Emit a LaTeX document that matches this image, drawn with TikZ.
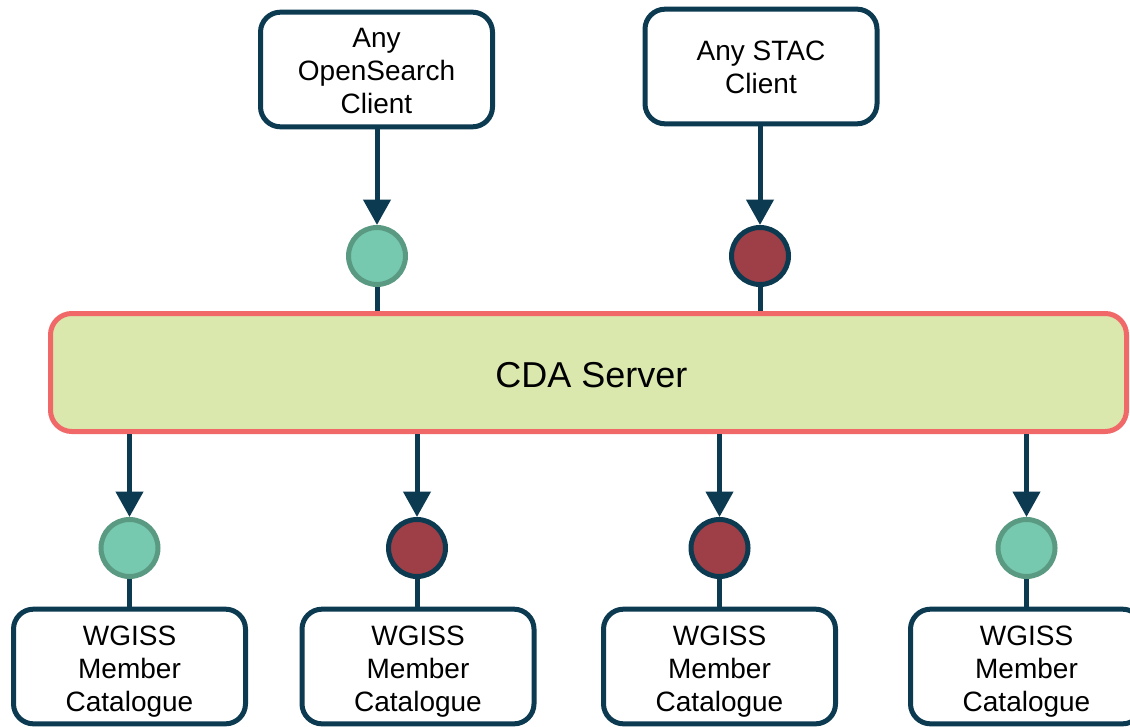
\documentclass[tikz,border=0pt]{standalone}
\usepackage{fontspec}
\setmainfont{Liberation Sans}
\usetikzlibrary{arrows.meta}
\definecolor{navy}{HTML}{0C3A51}
\definecolor{gfill}{HTML}{76C8AE}
\definecolor{gline}{HTML}{5A9A83}
\definecolor{rfill}{HTML}{9E3F47}
\definecolor{sfill}{HTML}{DAE8AE}
\definecolor{sline}{HTML}{F06868}
\tikzset{
  clientbox/.style={draw=navy, line width=3.75pt, rounded corners=15pt, fill=white,
    minimum width=174pt, minimum height=86pt, inner sep=0pt},
  txt/.style={align=center, inner sep=0pt, font=\fontsize{21}{24.75}\selectfont},
  serverbox/.style={draw=sline, fill=sfill, line width=3.75pt, rounded corners=16pt,
    minimum width=807pt, minimum height=88.5pt, inner sep=0pt},
  bigtxt/.style={inner sep=0pt, font=\fontsize{27}{32}\selectfont},
  gdot/.style={circle, draw=gline, fill=gfill, line width=3.75pt, minimum size=42.75pt, inner sep=0pt},
  rdot/.style={circle, draw=navy, fill=rfill, line width=3.75pt, minimum size=42.75pt, inner sep=0pt},
  arr/.style={draw=navy, line width=3.75pt, -{Triangle[width=20pt,length=19pt]}},
  link/.style={draw=navy, line width=3.75pt}
}
\begin{document}
\begin{tikzpicture}[x=0.75pt, y=-0.75pt]
\useasboundingbox (0,0) rectangle (1130,727);
\clip (0,0) rectangle (1130,727);
% top clients
\node[clientbox] (os) at (376.5,69.5) {};
\node[txt] (ost) at (376.5,71.5) {Any\\OpenSearch\\Client};
\node[clientbox] (stac) at (761,66.5) {};
\node[txt] (stact) at (761,67.5) {Any STAC\\Client};
% server
\node[serverbox] (srv) at (588.5,372.5) {};
\node[bigtxt] (srvt) at (591.5,375.5) {CDA Server};
% top dots
\node[gdot] (d1) at (377,256) {};
\node[rdot] (d2) at (760,256) {};
% bottom dots
\node[gdot] (b1) at (129.5,548) {};
\node[rdot] (b2) at (417,548) {};
\node[rdot] (b3) at (719.5,548) {};
\node[gdot] (b4) at (1026.5,548) {};
% bottom catalogues
\node[clientbox] (k1) at (129.5,666.5) {};
\node[clientbox] (k2) at (418,666.5) {};
\node[clientbox] (k3) at (719.5,666.5) {};
\node[clientbox] (k4) at (1026.5,666.5) {};
\node[txt] (k1t) at (129.5,672) {WGISS\\Member\\Catalogue};
\node[txt] (k2t) at (418,672) {WGISS\\Member\\Catalogue};
\node[txt] (k3t) at (719.5,672) {WGISS\\Member\\Catalogue};
\node[txt] (k4t) at (1026.5,672) {WGISS\\Member\\Catalogue};
% connectors top
\draw[arr] (os.south -| d1) -- (d1.north);
\draw[arr] (stac.south -| d2) -- (d2.north);
\draw[link] (d1.south) -- (d1 |- srv.north);
\draw[link] (d2.south) -- (d2 |- srv.north);
% connectors bottom
\draw[arr] (b1 |- srv.south) -- (b1.north);
\draw[arr] (b2 |- srv.south) -- (b2.north);
\draw[arr] (b3 |- srv.south) -- (b3.north);
\draw[arr] (b4 |- srv.south) -- (b4.north);
\draw[link] (b1.south) -- (b1 |- k1.north);
\draw[link] (b2.south) -- (b2 |- k2.north);
\draw[link] (b3.south) -- (b3 |- k3.north);
\draw[link] (b4.south) -- (b4 |- k4.north);
\end{tikzpicture}
\end{document}
